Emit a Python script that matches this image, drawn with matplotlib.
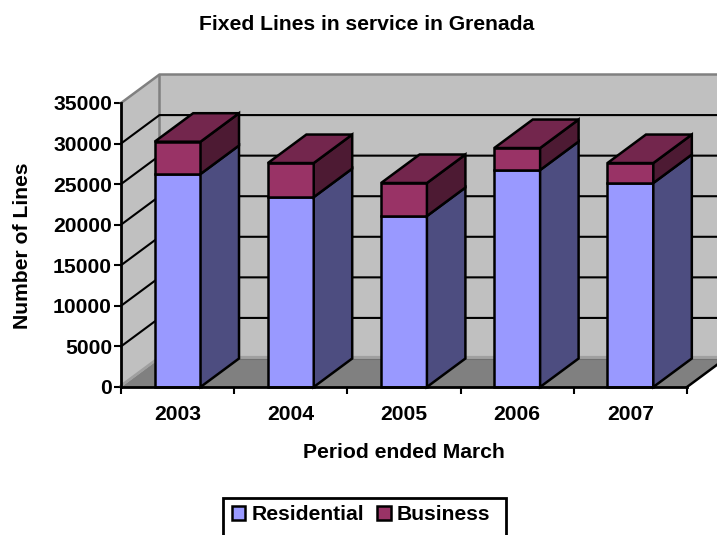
#! /usr/bin/env python
#
#   Fixed lines in service, old style excel 3D stacked columns
#
import matplotlib
matplotlib.use('Agg')
import matplotlib.pyplot as plt
from matplotlib.patches import Patch, Rectangle
import numpy as np

years       = ['2003', '2004', '2005', '2006', '2007']
residential = np.array([26250, 23400, 21070, 26740, 25140])
business    = np.array([3980,  4200,  4070,  2710,  2460])
yticks      = [0, 5000, 10000, 15000, 20000, 25000, 30000, 35000]

plt.rcParams['font.family'] = ['Liberation Sans', 'DejaVu Sans']
plt.rcParams['font.weight'] = 'bold'

W, H = 717, 535
# depth of the fake 3D, in data units (38.5 px and 28.5 px)
dx = 0.34
dy = 3512
barw = 0.405
lw = 1.8
fs = 15.2

fig = plt.figure(figsize=(W/100, H/100), dpi=100)
ax = fig.add_axes([121/W, (H-387)/H, 566/W, 284/H])
ax.set_xlim(0, 5)
ax.set_ylim(0, 35000)
ax.patch.set_visible(False)
n = len(years)
ymax = yticks[-1]

# walls and floor
ax.fill([dx, n+dx, n+dx, dx], [dy, dy, ymax+dy, ymax+dy], color='#c0c0c0', lw=0, clip_on=False, zorder=1)
ax.fill([0, dx, dx, 0], [0, dy, ymax+dy, ymax], color='#c0c0c0', lw=0, clip_on=False, zorder=1)
ax.fill([0, n, n+dx, dx], [0, 0, dy, dy], color='#808080', lw=0, clip_on=False, zorder=2)
ax.plot([n, n+dx], [0, dy], color='k', lw=lw, clip_on=False, zorder=3)
ax.plot([0, dx, n+dx], [150, dy+150, dy+150], color='#a0a0a0', lw=2, clip_on=False, zorder=3)
ax.plot([dx, n+dx], [dy, dy], color='#707070', lw=0.8, clip_on=False, zorder=3)
ax.plot([0, dx, n+dx], [ymax, ymax+dy, ymax+dy], color='#808080', lw=1.8, clip_on=False, zorder=3)
ax.plot([dx, dx], [dy, ymax+dy], color='#808080', lw=1.8, clip_on=False, zorder=3)

# grid lines along the side wall and the back wall
for v in yticks[1:-1]:
    ax.plot([0, dx, n+dx], [v, v+dy, v+dy], color='k', lw=1.5, clip_on=False, zorder=3)

# columns
x = np.arange(n) + 0.5
edge = dict(edgecolor='k', linewidth=lw, clip_on=False, zorder=5, joinstyle='miter')
ax.bar(x, residential, barw, color='#9999ff', **edge)
ax.bar(x, business, barw, bottom=residential, color='#993366', **edge)
for i in range(n):
    x1 = x[i] - barw/2
    x2 = x[i] + barw/2
    r = residential[i]
    t = r + business[i]
    ax.fill([x2, x2+dx, x2+dx, x2], [0, dy, r+dy, r], facecolor='#4d4d80', **edge)
    ax.fill([x2, x2+dx, x2+dx, x2], [r, r+dy, t+dy, t], facecolor='#4d1a33', **edge)
    ax.fill([x1, x2, x2+dx, x1+dx], [t, t, t+dy, t+dy], facecolor='#73264d', **edge)

# axes
for s in ['top', 'right']:
    ax.spines[s].set_visible(False)
for s in ['left', 'bottom']:
    ax.spines[s].set_linewidth(2.0)
    ax.spines[s].set_zorder(6)
ax.set_yticks(yticks)
ax.tick_params(axis='y', which='major', length=5, width=1.5, pad=1.5, labelsize=fs)
ax.set_xticks(np.arange(n+1))
ax.set_xticklabels([])
ax.set_xticks(x, minor=True)
ax.set_xticklabels(years, minor=True)
ax.tick_params(axis='x', which='major', length=5, width=1.5)
ax.tick_params(axis='x', which='minor', length=0, pad=13, labelsize=fs)

fig.text(367/W, 1-25/H, 'Fixed Lines in service in Grenada', ha='center', va='center', fontsize=fs, fontweight='bold')
fig.text(403.5/W, 1-452/H, 'Period ended March', ha='center', va='center', fontsize=fs, fontweight='bold')
fig.text(23/W, 1-246/H, 'Number of Lines', ha='center', va='center', rotation=90, fontsize=fs, fontweight='bold')

# legend box runs off the bottom edge of the picture in the original
box = Rectangle((223/W, 1-545/H), 282.5/W, 47/H, transform=fig.transFigure, facecolor='white',
                edgecolor='k', linewidth=2.0)
fig.add_artist(box)
handles = [Patch(facecolor='#9999ff', edgecolor='k', linewidth=1.8, label='Residential'),
           Patch(facecolor='#993366', edgecolor='k', linewidth=1.8, label='Business')]
leg = fig.legend(handles=handles, loc='center', bbox_to_anchor=(361/W, 1-515/H), ncol=2,
                 frameon=False, fontsize=fs,
                 handlelength=0.65, handleheight=0.65, handletextpad=0.3, columnspacing=0.6,
                 borderpad=0, borderaxespad=0)
leg.set_zorder(box.get_zorder()+1)

plt.savefig('out.png', dpi=100)
